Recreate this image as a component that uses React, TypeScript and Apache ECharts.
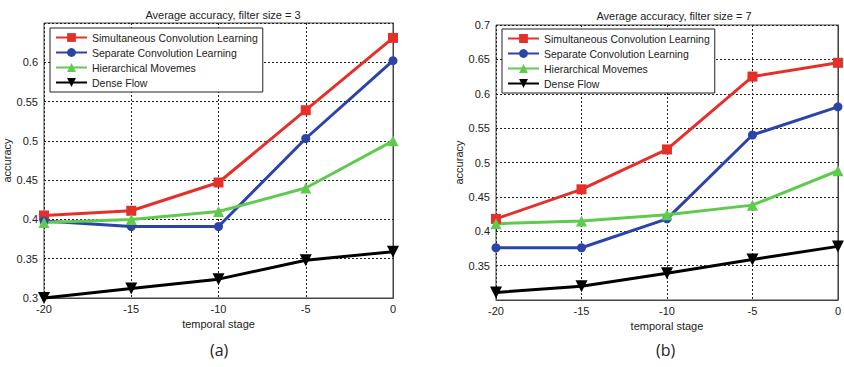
import React, { useEffect, useRef } from "react";
import * as echarts from "echarts";

const stages = [-20, -15, -10, -5, 0];
const seriesNames = [
  "Simultaneous Convolution Learning",
  "Separate Convolution Learning",
  "Hierarchical Movemes",
  "Dense Flow",
];
// filter size = 3
const simA = [0.405, 0.411, 0.447, 0.539, 0.631];
const sepA = [0.398, 0.391, 0.391, 0.503, 0.602];
const hierA = [0.396, 0.4, 0.41, 0.44, 0.5];
const denseA = [0.3, 0.312, 0.324, 0.348, 0.359];
// filter size = 7
const simB = [0.418, 0.461, 0.519, 0.625, 0.645];
const sepB = [0.376, 0.376, 0.418, 0.54, 0.581];
const hierB = [0.411, 0.415, 0.424, 0.438, 0.488];
const denseB = [0.311, 0.32, 0.339, 0.359, 0.378];

const colors = ["#e5302a", "#2b44a9", "#5fcb4e", "#000000"];
const symbols = [
  "rect",
  "circle",
  "triangle",
  "path://M0,0 L10,0 L5,9 Z",
];
const sizes = [10, 9, 11, 12];

const FONT = "'Liberation Sans', Arial, sans-serif";

export default function App() {
  const ref = useRef<HTMLDivElement>(null);
  useEffect(() => {
    const chart = echarts.init(ref.current!, null, { renderer: "svg" });
    const dataA = [simA, sepA, hierA, denseA];
    const dataB = [simB, sepB, hierB, denseB];
    const mkSeries = (arr: number[][], idx: number) =>
      arr.map((vals, i) => ({
        type: "line",
        name: seriesNames[i],
        xAxisIndex: idx,
        yAxisIndex: idx,
        data: vals.map((v, k) => [stages[k], v]),
        symbol: symbols[i],
        symbolSize: sizes[i],
        showAllSymbol: true,
        color: colors[i],
        lineStyle: { width: 3, color: colors[i] },
        itemStyle: { color: colors[i] },
        clip: false,
        z: 3,
      }));
    const xAxisBase = {
      type: "value",
      min: -20,
      max: 0,
      interval: 5,
      name: "temporal stage",
      nameLocation: "middle",
      nameGap: 19,
      nameTextStyle: { fontSize: 11, color: "#222", fontFamily: FONT },
      axisLine: { show: true, lineStyle: { color: "#444", width: 1 } },
      axisTick: { show: false },
      axisLabel: { fontSize: 11, color: "#222", fontFamily: FONT, margin: 5 },
      splitLine: {
        show: true,
        lineStyle: { type: [2, 2], color: "#222", width: 1 },
      },
    };
    const yAxisBase = {
      type: "value",
      name: "accuracy",
      nameLocation: "middle",
      nameGap: 26,
      nameTextStyle: { fontSize: 11, color: "#222", fontFamily: FONT },
      axisLine: { show: true, lineStyle: { color: "#444", width: 1 } },
      axisTick: { show: false },
      splitLine: {
        show: true,
        lineStyle: { type: [2, 2], color: "#222", width: 1 },
      },
    };
    const legendBase = {
      orient: "vertical",
      itemWidth: 31,
      itemHeight: 11,
      itemGap: 4,
      padding: [4, 5, 4, 5],
      backgroundColor: "#ffffff",
      borderColor: "#222",
      borderWidth: 1,
      borderRadius: 0,
      textStyle: { fontSize: 10.5, color: "#222", fontFamily: FONT },
      data: seriesNames,
      selectedMode: false,
      z: 10,
    };
    chart.setOption({
      animation: false,
      backgroundColor: "#ffffff",
      title: [
        {
          text: "Average accuracy, filter size = 3",
          left: 218,
          top: 4,
          textAlign: "center",
          textStyle: { fontSize: 11, fontWeight: "normal", color: "#222", fontFamily: FONT },
        },
        {
          text: "Average accuracy, filter size = 7",
          left: 669,
          top: 5,
          textAlign: "center",
          textStyle: { fontSize: 11, fontWeight: "normal", color: "#222", fontFamily: FONT },
        },
      ],
      grid: [
        { left: 44, top: 23, width: 349, height: 275, show: true, borderColor: "#444", borderWidth: 1, backgroundColor: "transparent" },
        { left: 496, top: 25, width: 347, height: 275, show: true, borderColor: "#444", borderWidth: 1, backgroundColor: "transparent" },
      ],
      xAxis: [
        { ...xAxisBase, gridIndex: 0 },
        { ...xAxisBase, gridIndex: 1 },
      ],
      yAxis: [
        {
          ...yAxisBase,
          gridIndex: 0,
          min: 0.3,
          max: 0.65,
          interval: 0.05,
          axisLabel: {
            fontSize: 11, color: "#222", fontFamily: FONT, margin: 6,
            formatter: (v: number) => (v > 0.645 ? "" : String(+v.toFixed(2))),
          },
        },
        {
          ...yAxisBase,
          gridIndex: 1,
          min: 0.3,
          max: 0.7,
          interval: 0.05,
          axisLabel: {
            fontSize: 11, color: "#222", fontFamily: FONT, margin: 6,
            formatter: (v: number) => (v < 0.305 ? "" : String(+v.toFixed(2))),
          },
        },
      ],
      legend: [
        { ...legendBase, left: 50, top: 28 },
        { ...legendBase, left: 502, top: 29 },
      ],
      series: [...mkSeries(dataA, 0), ...mkSeries(dataB, 1)],
      graphic: [
        {
          type: "text",
          left: 210,
          top: 342,
          style: { text: "(a)", font: "16px 'Open Sans', sans-serif", fill: "#222" },
        },
        {
          type: "text",
          left: 656,
          top: 342,
          style: { text: "(b)", font: "16px 'Open Sans', sans-serif", fill: "#222" },
        },
      ],
    });
    return () => chart.dispose();
  }, []);
  return (
    <div
      ref={ref}
      style={{ position: "fixed", left: 0, top: 0, width: 844, height: 367 }}
    />
  );
}
